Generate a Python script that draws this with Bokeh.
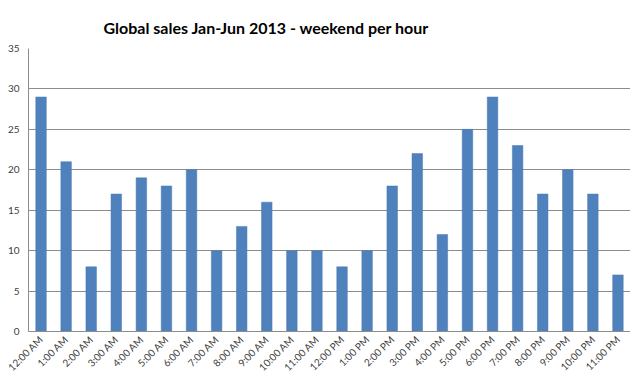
import math
from bokeh.plotting import figure
from bokeh.models import Range1d
from bokeh.embed import file_html
from bokeh.resources import INLINE

hours = ["12:00 AM", "1:00 AM", "2:00 AM", "3:00 AM", "4:00 AM", "5:00 AM",
         "6:00 AM", "7:00 AM", "8:00 AM", "9:00 AM", "10:00 AM", "11:00 AM",
         "12:00 PM", "1:00 PM", "2:00 PM", "3:00 PM", "4:00 PM", "5:00 PM",
         "6:00 PM", "7:00 PM", "8:00 PM", "9:00 PM", "10:00 PM", "11:00 PM"]
sales = [29, 21, 8, 17, 19, 18, 20, 10, 13, 16, 10, 10,
         8, 10, 18, 22, 12, 25, 29, 23, 17, 20, 17, 7]
y_ticks = [0, 5, 10, 15, 20, 25, 30, 35]

p = figure(x_range=hours, y_range=Range1d(0, 35),
           frame_width=602, frame_height=283,
           output_backend="svg", toolbar_location=None,
           min_border_left=28, min_border_right=0, min_border_top=48, min_border_bottom=0)

p.title.text = "Global sales Jan-Jun 2013 - weekend per hour"
p.title.align = "left"
p.title.text_font = "Lato"
p.title.text_font_style = "bold"
p.title.text_font_size = "16px"
p.title.text_color = "#000000"
p.title.offset = 75
p.title.standoff = 23

p.vbar(x=hours, top=sales, width=0.42, fill_color="#4F81BD", line_color="#4A7AB3", line_width=0.5)

p.outline_line_color = None
p.background_fill_color = "white"
p.border_fill_color = "white"

p.yaxis.ticker = y_ticks
p.ygrid.grid_line_color = "#8C8C8C"
p.ygrid.grid_line_width = 1
p.xgrid.grid_line_color = None

for ax in (p.xaxis, p.yaxis):
    ax.axis_line_color = "#8C8C8C"
    ax.major_tick_line_color = None
    ax.minor_tick_line_color = None
    ax.major_tick_out = 0
    ax.major_tick_in = 0
    ax.major_label_text_font = "Lato"
    ax.major_label_text_font_size = "10px"
    ax.major_label_text_color = "#404040"

p.yaxis.major_label_standoff = 9
p.xaxis.major_label_orientation = math.pi / 4
p.xaxis.major_label_standoff = 6

open("out.html", "w").write(file_html(p, INLINE))
